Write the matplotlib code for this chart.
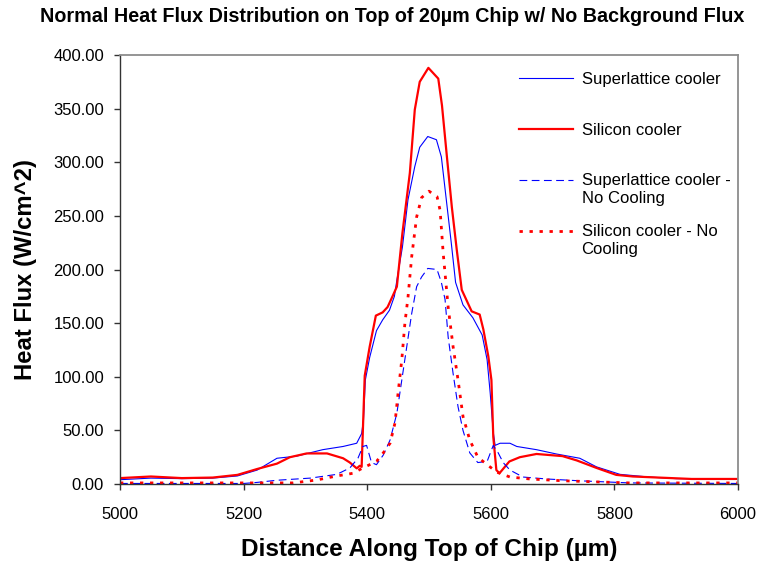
import numpy as np
import matplotlib
matplotlib.use("Agg")
import matplotlib.pyplot as plt
from matplotlib.legend_handler import HandlerLine2D

# Heat flux along the top of the chip (x in µm, flux in W/cm^2)
sl_x = [5000, 5050, 5100, 5150, 5190, 5222, 5254, 5286, 5328, 5361, 5383, 5391,
        5394, 5397, 5404, 5415, 5425, 5436, 5444, 5448, 5457, 5466, 5477, 5485,
        5498, 5512, 5520, 5528, 5536, 5543, 5555, 5571, 5586, 5594, 5599, 5604,
        5607, 5615, 5631, 5642, 5674, 5706, 5744, 5771, 5809, 5856, 5900, 6000]
sl_y = [4.0, 5.5, 5.0, 5.5, 7.5, 13, 24, 26, 32, 35, 38, 47,
        60, 97, 118, 143, 153, 162, 175, 190, 221, 265, 296, 314,
        324, 321, 305, 265, 225, 188, 167, 155, 139, 116, 85, 48,
        36, 38, 38, 35, 32, 28, 24, 16, 9, 6.5, 5.0, 4.5]

si_x = [5000, 5050, 5100, 5150, 5190, 5222, 5254, 5275, 5302, 5335, 5361, 5372,
        5383, 5388, 5391, 5396, 5404, 5414, 5425, 5433, 5441, 5448, 5457, 5469,
        5477, 5485, 5499, 5515, 5521, 5529, 5537, 5545, 5553, 5569, 5582, 5588,
        5596, 5601, 5604, 5609, 5614, 5630, 5647, 5674, 5716, 5739, 5771, 5803,
        5830, 5888, 5925, 6000]
si_y = [5.5, 7.0, 5.5, 6.0, 8.5, 14, 19, 25, 28.5, 28.5, 24, 20,
        14.6, 17, 16, 101, 128, 157, 160, 165, 175, 184, 234, 290,
        349, 375, 388, 378, 353, 305, 258, 218, 181, 161, 158, 144,
        119, 97, 44, 13, 10, 21, 25, 28, 26, 22, 15, 8.5,
        7.0, 5.6, 4.7, 4.7]

sl_nc_x = [5000, 5200, 5222, 5254, 5308, 5351, 5372, 5385, 5393, 5399, 5407, 5415,
           5426, 5437, 5448, 5456, 5464, 5472, 5480, 5488, 5498, 5513, 5520, 5526,
           5531, 5539, 5547, 5555, 5566, 5579, 5594, 5604, 5612, 5620, 5631, 5652,
           5690, 5743, 5825, 6000]
sl_nc_y = [0.5, 0.5, 1.5, 3.5, 5.5, 9, 15, 24, 35, 36, 20, 18,
           27, 41, 66, 97, 128, 159, 184, 193, 201, 200, 188, 172,
           137, 103, 72, 50, 29, 20, 21, 36, 29, 20, 13, 6.5,
           4.7, 3.0, 1.0, 0.5]

si_nc_x = [5000, 5280, 5318, 5351, 5377, 5393, 5415, 5426, 5437, 5445, 5450, 5456,
           5461, 5466, 5472, 5480, 5488, 5500, 5513, 5518, 5523, 5531, 5539, 5547,
           5555, 5566, 5579, 5594, 5610, 5631, 5663, 5717, 5825, 6000]
si_nc_y = [1.0, 1.0, 3.7, 7.5, 10, 15, 21, 29, 38, 57, 85, 116,
           150, 174, 212, 249, 267, 273, 268, 255, 215, 165, 128, 97,
           63, 41, 25, 18, 11, 6.5, 4.7, 3.0, 1.0, 1.0]

labels = ["Superlattice cooler\n", "Silicon cooler\n",
          "Superlattice cooler -\nNo Cooling", "Silicon cooler - No\nCooling"]
x_ticks = [5000, 5200, 5400, 5600, 5800, 6000]
y_ticks = [0, 50, 100, 150, 200, 250, 300, 350, 400]

plt.rcParams["font.family"] = ["Liberation Sans", "DejaVu Sans"]

fig = plt.figure(figsize=(7.64, 5.65), dpi=100)
ax = fig.add_axes([120 / 764, 1 - 484 / 565, 618 / 764, 429 / 565])

l1, = ax.plot(sl_x, sl_y, color="#0000FF", lw=0.8)
l2, = ax.plot(si_x, si_y, color="#FF0000", lw=1.6)
l3, = ax.plot(sl_nc_x, sl_nc_y, color="#0000FF", lw=0.8, dashes=(7, 4))
l4, = ax.plot(si_nc_x, si_nc_y, color="#FF0000", lw=2.0, dashes=(1.2, 2.4))

ax.set_xlim(5000, 6000)
ax.set_ylim(0, 400)
ax.set_xticks(x_ticks)
ax.set_yticks(y_ticks)
ax.set_yticklabels([f"{v:.2f}" for v in y_ticks])
ax.tick_params(axis="both", direction="out", length=4.5, width=1.0,
               labelsize=12, color="#333333")
ax.tick_params(axis="y", pad=7)
ax.tick_params(axis="x", pad=12)

for side in ("left", "bottom"):
    ax.spines[side].set_color("#333333")
    ax.spines[side].set_linewidth(1.0)
for side in ("top", "right"):
    ax.spines[side].set_color("#8c8c8c")
    ax.spines[side].set_linewidth(1.3)

ax.set_xlabel("Distance Along Top of Chip (µm)", fontsize=17.6, fontweight="bold")
ax.set_ylabel("Heat Flux (W/cm^2)", fontsize=17.2, fontweight="bold")
ax.xaxis.set_label_coords(0.5, -0.126)
ax.yaxis.set_label_coords(-0.135, 0.5)

fig.text(392 / 764, 1 - 17 / 565,
         "Normal Heat Flux Distribution on Top of 20µm Chip w/ No Background Flux",
         ha="center", va="center", fontsize=14.2, fontweight="bold")


class FirstLineHandler(HandlerLine2D):
    """Line handle aligned with the first line of a two-line label."""

    def __init__(self, dy, **kw):
        super().__init__(**kw)
        self.dy = dy

    def create_artists(self, legend, orig_handle, xdescent, ydescent,
                       width, height, fontsize, trans):
        arts = super().create_artists(legend, orig_handle, xdescent, ydescent,
                                      width, height, fontsize, trans)
        for a in arts:
            a.set_ydata(np.asarray(a.get_ydata()) + self.dy)
        return arts


h = FirstLineHandler(dy=7.2)
leg = ax.legend([l1, l2, l3, l4], labels, loc="upper left",
                bbox_to_anchor=(519 / 764, 1 - 72 / 565),
                bbox_transform=fig.transFigure, frameon=False, fontsize=12,
                handlelength=3.25, handletextpad=0.5, borderpad=0,
                borderaxespad=0, labelspacing=1.1,
                handler_map={l1: h, l2: h, l3: h, l4: h})

fig.savefig("out.png", dpi=100)
